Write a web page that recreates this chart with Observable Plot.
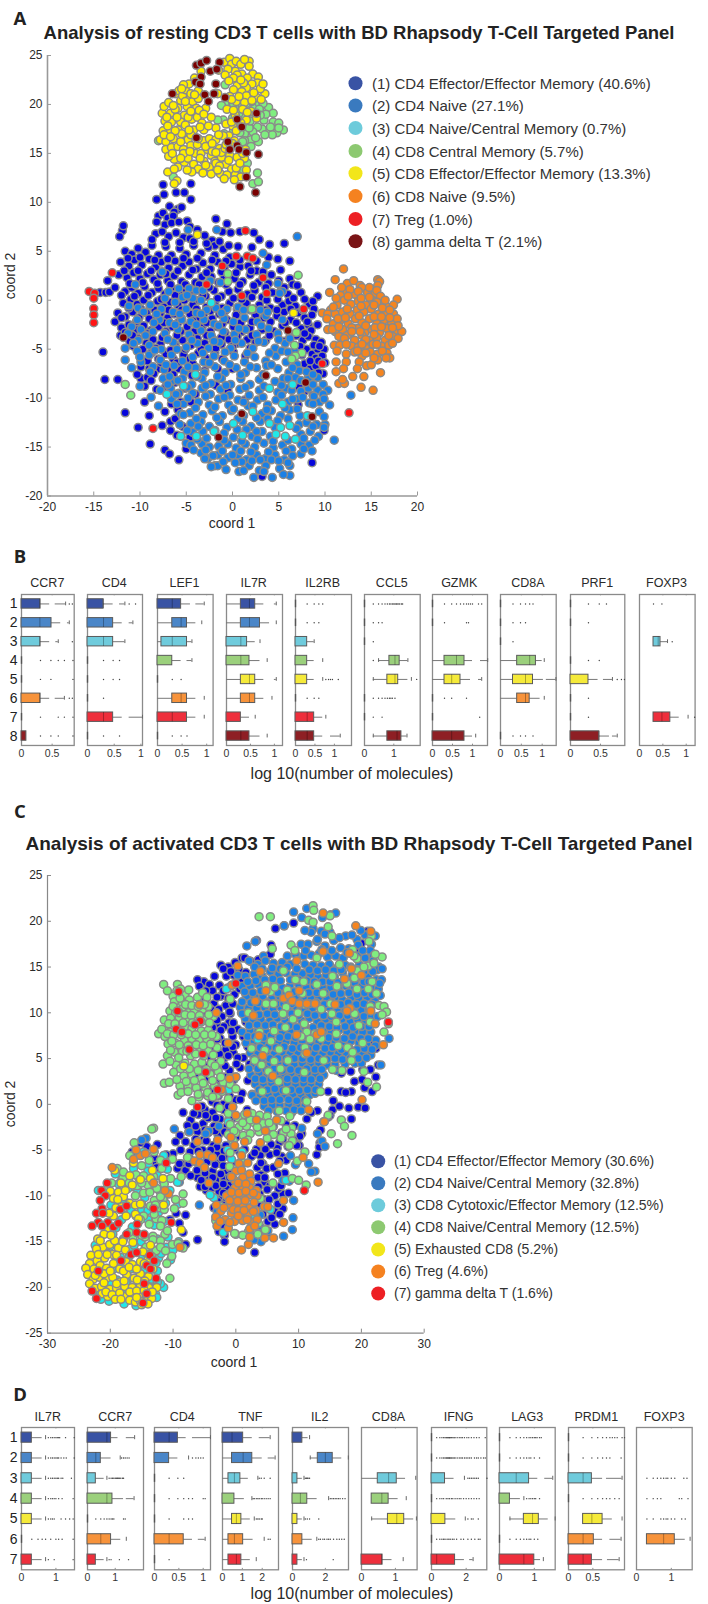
<!DOCTYPE html>
<html><head><meta charset="utf-8">
<script src="https://cdn.jsdelivr.net/npm/d3@7"></script>
<script src="https://cdn.jsdelivr.net/npm/@observablehq/plot@0.6"></script>
<style>
html,body{margin:0;padding:0;background:#fff}
#page{position:relative;width:708px;height:1604px;overflow:hidden;font-family:"Liberation Sans",Arial,sans-serif;color:#2a2a2a}
.lab{position:absolute;white-space:nowrap;transform:translate(-50%,-50%)}
.abs{position:absolute}
.abs svg{overflow:visible;display:block}
</style></head><body><div id="page"></div>
<script>
// ---------- Legends and colours ----------
const legendA=["(1) CD4 Effector/Effector Memory (40.6%)","(2) CD4 Naive (27.1%)","(3) CD4 Naive/Central Memory (0.7%)","(4) CD8 Central Memory (5.7%)","(5) CD8 Effector/Effector Memory (13.3%)","(6) CD8 Naive (9.5%)","(7) Treg (1.0%)","(8) gamma delta T (2.1%)"];
const legendColorsA=["#3953a4","#3a7abf","#6dcbdb","#8dc971","#f2e61a","#f58220","#ed2024","#7a1416"];
const pointColorsA=["#0606dc","#1a80e6","#20e8e8","#80ee80","#ffee00","#f5851f","#ff1414","#7a0000"];
const legendC=["(1) CD4 Effector/Effector Memory (30.6%)","(2) CD4 Naive/Central Memory (32.8%)","(3) CD8 Cytotoxic/Effector Memory (12.5%)","(4) CD8 Naive/Central Memory (12.5%)","(5) Exhausted CD8 (5.2%)","(6) Treg (4.6%)","(7) gamma delta T (1.6%)"];
const legendColorsC=["#3953a4","#3a7abf","#6dcbdb","#8dc971","#f2e61a","#f58220","#ed2024"];
const pointColorsC=["#0606dc","#1a80e6","#20e8e8","#80ee80","#ffee00","#f5851f","#ff1414"];
const boxColors=["#3953a4","#4a86c8","#6fcbdc","#9bd07c","#f5ea3a","#f7933b","#ee2f3c","#8e1f24"];

// ---------- Panel A: points (x,y,x,y,...) ----------
const A1=[-7.5,11.8,-4.5,11.9,-8.2,10.3,-7.4,10.8,-4.5,10.3,-6.1,11,-5.2,11,-6.8,9.6,-5.9,9.3,-5.5,9.5,-6.3,9,-8,8.6,-7.5,8.9,-7,8.4,-6.4,8.6,-8.2,8,-7.3,7.7,-6.6,7.9,-5.8,8,-4.9,8.1,-4.6,7.5,-1.8,8.3,-0.6,7.8,-11.9,7.1,-12.2,6.5,-11.8,7.6,
-8.3,6.8,-7.6,7,-6.9,6.5,-6.1,6.9,-5.3,6.4,-4.6,6.3,-3.8,7.2,-3,6.6,-2.2,6.1,-1.1,7,-0.2,6.9,0.8,7,-1.9,5.6,2.3,6.9,2.9,6.2,4,5.7,5.6,5.8,
-11.6,5,-10.9,4.7,-10.2,5.3,-9.4,4.9,-8.7,5.6,-8,4.6,-7.2,5.5,-6.6,4.6,-5.7,5.3,-5,4.7,-4.2,5.6,-3.4,4.8,-2.6,5.4,-1.9,4.6,-1,5.2,-0.3,4.4,3.9,4.4,4.9,4.2,6.2,4,
-12.1,3.9,-11.2,3.5,-10.6,4.1,-9.8,3.6,-9,4.2,-8.3,3.4,-7.7,3.9,-6.9,3.3,-6.2,4,-5.4,3.5,-4.7,3.9,-3.9,3.2,-3.2,3.8,-2.4,3.2,-1.6,3.9,-0.9,3.3,-0.1,3.7,0.8,3.4,1.7,3.5,2.6,3,4.2,2.6,
-12.3,2.6,-11.4,2.3,-10.7,2.8,-10,2.2,-9.2,2.7,-8.5,2.1,-7.8,2.6,-7,2,-6.3,2.5,-5.5,1.9,-4.7,2.6,-4,1.8,-3.3,2.4,-2.3,2.4,-1.5,1.8,-0.9,2.4,0.2,2.2,1.1,1.9,1.9,2.6,2.8,1.8,3.9,1.7,5,2,6.2,2.2,6.5,1.6,
-13.5,2,-14.3,0.8,-13.7,0.8,-13.3,0.85,-12.7,1.3,-11.6,0.9,-10.9,1.3,-10.2,0.7,-9.5,1.4,-8.7,0.8,-8,1.2,-7.3,0.6,-6.6,1.3,-5.8,0.7,-5.1,1.2,-4.4,0.6,-3.6,1.1,-2.9,0.4,-2,1,-1.2,0.4,-0.4,0.9,0.6,1.1,1.6,0.6,2.4,1,3.2,0.3,4.3,0.8,5.2,0.9,6,0.6,7.4,0.8,9.2,0.4,
-11.8,-0.3,-11,0.1,-10.3,-0.4,-9.6,0,-8.9,-0.6,-8.1,-0.1,-7.4,-0.7,-6.7,-0.2,-5.9,-0.5,-5.2,0,-4.3,-0.5,-3.6,0,-2.8,-0.7,-1.9,-0.4,-1.1,-0.8,-0.3,-0.3,0.5,-0.9,1.5,-0.3,2.9,-0.5,4.1,-0.8,5.4,-0.5,6.1,-0.1,6.8,-0.6,8.3,-0.4,8.8,-0.9,
-12.4,-1.3,-11.6,-1.7,-10.8,-1.2,-10.1,-1.8,-9.3,-1.3,-8.5,-1.9,-7.8,-1.3,-7,-1.8,-6.3,-1.4,-5.5,-1.9,-4.6,-1.4,-3.8,-2,-3.1,-1.4,-2.2,-1.9,-1.4,-1.4,-0.6,-2,0.4,-1.5,2.5,-1.5,3.4,-1.8,4.8,-1.6,5.6,-1.2,6.3,-2,7.1,-1.3,7.8,-1.8,8.6,-1.5,
-12.7,-2.2,-12,-2.8,-11.2,-2.5,-10.4,-3,-9.6,-2.6,-8.8,-3.1,-8,-2.7,-7.2,-3.2,-6.5,-2.7,-5.6,-3.2,-4.9,-2.7,-4.1,-3.2,-3.3,-2.8,-2.4,-3.2,-1.6,-2.7,-0.8,-3.3,0.1,-2.7,1,-3.2,1.9,-2.8,3.2,-3,4.5,-3.2,5.4,-2.6,7.4,-2.9,8.2,-2.5,8.5,-3.1,9.2,-2.5,
-12.1,-3.6,-11.1,-4.2,-10.2,-3.9,-9.3,-4.4,-8.6,-4,-7.8,-4.5,-7,-4,-6.2,-4.6,-5.4,-4.1,-4.5,-4.6,-3.8,-3.9,-3,-4.4,-2.1,-4,-1.2,-4.5,-0.4,-4,0.5,-4.4,1.6,-4,2.5,-4.3,3.6,-4.1,5.6,-4.2,6.2,-3.8,7.6,-4.1,8.2,-3.7,9,-4,9.6,-4.3,
-8.8,-5.4,-8,-6,-7.2,-5.5,-6.4,-6,-5.3,-5.6,-4.6,-6,-3.7,-5.4,-2.9,-5.9,-1.9,-5.4,-1.1,-6,0.1,-5.3,1.4,-5.7,8,-5,8.6,-5.5,9.2,-5,9.9,-5,9,-5.9,9.7,-5.7,
-9.9,-6.8,-9,-7,-8,-7,-7,-7.1,-5.8,-7,-4.9,-7.2,-3.9,-6.9,-3,-7.2,-1.6,-7,0,-7,7.8,-6.5,8.4,-7,9,-6.7,9.8,-7.5,10,-6.4,
-13.8,-8.1,-12.4,-8.1,-14,-5.3,-9.9,-8,-9.2,-7.9,-9.5,-8.8,-9.5,-10.4,-11.6,-11.5,-10.2,-13,-8.9,-14.7,-7.3,-15.3,-6.8,-15.7,-5.8,-16.3,-9,-11.8,-7.3,-11.4,-6.7,-12.4,-6.7,-13.3,-6,-13.8,-5,-15.2,-8.2,-9.1,-7.2,-8.8,-6.2,-8.4,-5.6,-10.4,-5.9,-11.2,-6.6,-10.6,-4,-9.6,-3.2,-9,-1.8,-8.7,-0.5,-9.2,1.3,-10.2,8.6,-16.6,3.2,-18,6.2,-8.1,7.2,-8.9,7.8,-9.3,8.7,-9.7,9.9,-13.3,8.2,-7.9];
const A1more=[-8.7,6.2,-7.3,5.9,-5.7,5.9,-4.2,6,-2.8,5.8,-1.4,6,-0.4,5.6,0.6,5.5,2.1,5.4,-11.3,4.3,-10,4.4,-8.4,4.1,-7,4.2,-5.3,4.3,-3.8,4.3,-2.2,4.1,-0.7,4,0.8,4.1,2.6,4,-11.7,3,-10.2,3,-8.8,3,-7.2,2.7,-5.9,3,-4.3,3.1,-2.8,2.8,-1.2,2.9,0.4,2.8,2,3,3.3,2.9,5.2,3.1,-11.1,1.7,-9.7,1.8,-8.1,1.7,-6.7,1.6,-5.1,1.6,-3.6,1.6,-2.5,1.3,-0.7,1.6,0.8,1.6,2.3,1.5,3.6,1.3,5.6,1.3,7,1.5,-12,0.5,-10.6,0.4,-9.1,0.5,-7.7,0.1,-6.2,0.5,-4.7,0.4,-3.2,0.5,-1.6,0.2,0.1,0.2,1,0.1,2.1,0.3,3.7,0,4.9,0.1,6.6,0.2,7.8,0.1,8.7,-0.1,-11.2,-0.8,-9.9,-0.9,-8.4,-1,-6.9,-1,-5.5,-1,-3.9,-0.9,-2.4,-1.1,-0.8,-1.1,1,-1,2.3,-0.9,3.6,-1,4.8,-1,6.3,-0.9,7.6,-1,-12,-1.8,-10.4,-2.2,-9,-1.9,-7.4,-2.3,-5.9,-2.3,-4.3,-2.1,-2.8,-2.3,-1.1,-2.4,0.9,-2.3,2.1,-2.2,4.1,-2.2,5.7,-2.3,6.9,-2.3,8.1,-2.2,-11.6,-3.3,-10.8,-3.6,-9.1,-3.4,-7.6,-3.8,-6,-3.6,-4.5,-3.7,-2.8,-3.6,-1.2,-3.8,0.5,-3.7,2.1,-3.6,4,-3.6,6.9,-3.6,7.8,-3.4,-10.7,-4.7,-9.7,-5,-8.3,-4.9,-6.7,-5.1,-5.1,-5,-3.4,-5,-1.8,-4.9,0,-4.7,1.9,-4.9,7.3,-4.7,8.8,-4.6,9.4,-4.7,-10,-5.8,-9.2,-6.2,-7.7,-6.4,-6,-6.4,-4.3,-6.5,-2.5,-6.5,7.5,-5.6,8.4,-6.2,9.3,-6.2,-10.3,-7.6,-8.5,-7.5,-6.4,-7.6,-4.4,-7.7,8.6,-7.7,9.3,-7.4,-8.8,-8.2,-6.9,-9.2,-5.1,-9,-4.5,-10.4,5.5,-9.2,7.1,-10.7,-7.6,-12.8,-6.2,-12.1,-5.4,-12.9,-4.6,-14];
const A2=[-4.8,7.2,-1.7,7.2,7,6.5,3.3,4.8,3.7,3.6,12.8,-9.7,11,-14.3,-7.6,2.9,-10.5,1.6,-2.4,2,-1.3,1.8,4.9,1.7,5.4,0.9,5.1,0.7,
-5.8,1.2,-4.7,1.2,-3.9,1.0,-3.2,1,-7.3,0.2,-6.2,-0.2,-5.4,0.3,-4.3,0.2,-3.4,0,-8.9,-0.5,-10.2,-0.8,-11.2,-0.6,-9.6,-1.2,-7.7,-0.9,-6.4,-1.2,-5,-0.9,-3.9,-1.3,-2.8,-1,-1.8,-0.8,-0.6,-0.9,0.6,-0.7,1.9,-1,3,-1,
-7.9,-2,-6.8,-2.3,-5.5,-2,-4.5,-2.2,-3.1,-2,-2,-2.4,-0.9,-1.9,0.1,-2.2,1.3,-1.8,2.7,-2.2,3.6,-1.6,5.4,-2,-10.9,-2.7,-9.9,-3,-8.6,-3.2,-7.3,-3.4,-5.9,-3,-4.7,-3.5,-3.4,-3.1,-2.3,-3.6,-1,-3.2,0.2,-3.5,1.4,-3,2.6,-3.5,3.9,-2.9,4.9,-3.4,
-11.3,-3.4,-10.2,-4.1,-9,-4.6,-7.7,-5,-6.4,-4.3,-5,-4.8,-3.8,-4.4,-2.6,-4.9,-1.4,-4.3,-0.2,-4.9,1,-4.4,2.2,-4.9,3.4,-4.3,4.6,-4.9,5.7,-4.4,6.7,-5.2,
-11.6,-4.9,-10.3,-5.2,-9,-5.6,-7.8,-6.1,-6.6,-5.6,-5.4,-6.2,-4.3,-5.8,-3.1,-6.3,-2,-5.7,-0.9,-6.2,0.2,-5.7,1.3,-6.3,2.4,-5.8,3.6,-6.2,4.7,-5.7,5.8,-6.3,7,-6.6,
-11.6,-6.1,-10.9,-6.9,-9.9,-6.3,-8.6,-6.8,-7.4,-7.1,-6.3,-6.7,-5.2,-7.3,-4,-6.9,-3,-7.4,-1.9,-6.8,-0.8,-7.4,0.4,-6.9,1.4,-7.4,2.6,-6.9,3.7,-6.7,4.9,-7,6.1,-7.4,7.2,-7.2,
-7.5,-8,-6.4,-8.2,-5.4,-8,-4.4,-8.6,-3.3,-8,-2.3,-8.5,-1.2,-8,-0.2,-8.6,0.9,-8,1.9,-8.6,2.9,-8.1,4.6,-8.3,5.5,-8,6.8,-7.9,8.2,-8,9.2,-7.9,9.8,-8.6,
-10,-8.8,-7.8,-9.2,-6.7,-9,-5.8,-9.5,-4.3,-9.5,-3.3,-9,-2.4,-9.6,-1.3,-9.1,-0.3,-9.7,0.8,-9.1,1.8,-9.7,2.9,-9.2,4.9,-9.4,5.8,-9,7.4,-9.3,8.2,-9,9.2,-9.2,10.3,-9.2,
-8.8,-9.9,-6.6,-10.1,-5.3,-10.6,-3.7,-10.4,-2.5,-10.7,-1.5,-10.1,-0.4,-10.7,0.6,-10.2,1.7,-10.8,2.7,-10.2,3.8,-10.7,4.7,-10.2,6,-10.4,7,-10.1,8.3,-10.5,9.4,-10.4,10.5,-10.7,
-8,-10.8,-4.6,-11.5,-3.2,-11.7,-2.2,-11.3,-1.1,-11.8,-0.1,-11.3,1.2,-11.8,3.2,-11.6,4.2,-11.3,5.2,-11.8,6.2,-11.2,7.3,-11.8,9.4,-11.4,
-5.6,-11.6,-5.7,-12.7,-4.5,-12.6,-3.4,-12.4,-2.5,-12.9,-1.4,-12.4,-0.6,-13,1.1,-12.4,2,-12.9,3,-12.4,4.9,-12.3,7.2,-12.7,8,-12.5,9.1,-12.7,10,-12.7,
-4.3,-13.5,-3.2,-13.4,-0.9,-13.6,0.1,-14,2.1,-13.9,3.2,-13.4,4.1,-13.9,7.4,-13.7,8.4,-13.4,9.3,-13.9,
-5,-14.6,-4.5,-14.8,-3.3,-14.7,-2.5,-15,-1.5,-14.9,-0.5,-14.7,0.4,-15.1,1.4,-14.7,2.4,-15,3.4,-14.6,4.4,-15.1,5.4,-14.8,6.4,-15.2,7.4,-14.7,8.3,-14.8,
-3.4,-15.6,-2.7,-16.2,-1.6,-15.8,-0.5,-16.1,0.6,-15.8,1.5,-16.3,2.6,-15.8,3.5,-16.2,4.6,-15.8,5.6,-16.3,6.5,-15.9,7.4,-15.7,
-3,-16.2,-1.9,-16.9,-1.6,-16.9,-0.7,-17.3,0.7,-17.5,1.8,-16.9,2.3,-18.1,2.9,-17.4,3.6,-16.9,4.3,-18.1,5.1,-17.2,6.2,-17.9,6.2,-16.9];
const A2more=[-6.9,0.9,-4.9,0.5,-8.2,-1.4,-5.7,-1.4,-3.4,-1.4,-1.2,-1.3,1.2,-1,3.8,-1.2,-10.3,-2,-8.5,-2.3,-6.2,-2.5,-3.9,-2.5,-1.5,-2.6,0.7,-2.9,3.1,-2.6,-9.4,-3.6,-7,-4,-4.4,-4.1,-2,-4.2,0.3,-4.1,2.8,-4.2,5,-4,6.2,-3.9,-10.7,-4.4,-8.4,-5.1,-6,-5,-3.2,-5.4,-0.8,-5.3,1.6,-5.4,4,-5.4,5.3,-5.2,6,-5.3,-10,-5.8,-7.2,-6.6,-4.8,-6.8,-2.5,-6.4,-0.3,-6.6,1.9,-6.8,4.2,-6.6,6.5,-6.9,8,-7.3,-8.9,-7.3,-6.8,-7.8,-5.9,-8.2,-3.8,-7.8,-1.6,-7.8,0.9,-7.6,3.3,-7.6,6,-8,7.4,-8.2,8.7,-7.6,-7,-8.6,-4.9,-8.9,-2.9,-8.7,-0.7,-8.7,1.4,-8.9,3.4,-8.8,5.3,-8.7,6.4,-9.2,8.7,-8.6,9.8,-9.6,-6.1,-9.6,-4.8,-10,-2.9,-9.8,-0.9,-9.9,1.2,-10.4,3.3,-9.9,5.3,-9.7,6.5,-10.1,7.6,-9.9,8.8,-9.8,-6,-10.6,-4,-11,-1.9,-10.9,0.1,-11.1,2.2,-10.8,3.7,-11.2,5.7,-11,7,-11.1,8.7,-10.6,9.9,-10.1,-5.3,-11.7,-3.9,-12.1,-1.7,-12,0.6,-12.1,2.6,-12,3.8,-12.1,6,-12.1,8.2,-11.9,9.9,-11.9,-4.9,-13.3,-3.7,-12.9,-1.9,-13.3,0.5,-13.2,1.5,-13.2,2.6,-13.4,4.6,-13,6.9,-13.1,8.7,-12.9,9.9,-13,-3.8,-14.2,-2.8,-14.1,-0.9,-14.3,1,-14.4,2.7,-14.2,4.4,-14.4,6,-14.3,7.7,-14.1,8.9,-14.3,-4.2,-15.3,-2.9,-15.3,-1.1,-15.4,0.9,-15.4,2,-15.5,3.9,-15.5,5.8,-15.4,7.7,-15.2,8.6,-15.4,-2.1,-15.9,0,-15.8,1,-16.5,2.1,-16.4,3,-16.3,4.2,-16.3,5,-16.4,6,-16.6,-1,-16.5,0.3,-16.6,-2.3,-17,1.2,-17.4,3.4,-17.5,5.5,-17.8];
const A3=[-2.3,-0.25,-4,-7.6,-5.3,-8.75,-7.1,-9.6,4,-9,6.5,-8.6,5.4,-10.6,2.2,-11.4,0.1,-12.6,4,-12.6,-2,-13.4,1.1,-13.8,-3.9,-13.9,-5.6,-13.9,5.2,-13,6.2,-12.8,5.7,-13.9,6.8,-14.2,4.7,-13.7,8.1,-11.8];
const A4=[-0.5,2.7,-0.5,1.9,7.1,2.55,2.1,-0.9,6.9,-3.3,6.7,-4.6,7.5,-5.4,6.8,-5.7,6.4,-6,-11.6,-8.6,-11,-9.7,-6.4,12.6,-8,16.3,-0.8,22,2.7,13,2.2,11.9,2.8,12.1,0.9,13.6,1.1,14.1,
-0.8,20,-1.2,19.9,0.2,19.7,0.8,20.3,1.5,20.1,1.8,20.8,2.4,19.9,2.9,20.1,3,19.2,3.9,19.7,4.4,19.1,2.2,18.9,3.4,18.4,4.4,18.2,5,18.1,5.5,17.4,4.8,17.1,3.9,17.2,3.2,17.5,2.7,17.7,2.2,17.2,1.3,17,2,16.4,2.8,16.2,0.8,17.1,0.1,17.3,-1,18.4,-1.6,18.4,-0.9,17,1.3,16.3,2.5,16.6,4.3,16.9,1.4,18.8,0,18.6,0.7,19.1,1.6,14,0.9,13,1.2,13.3,0.1,20.1,1.1,19.9,2.1,20.3,3.3,20.1,3.6,19,4.1,17.7,5,17.6,3.5,16.9,1.8,17.6,1.1,16.2,2,15.7,2.9,19.5,1.9,18.3,3,18.9];
const A5=[6.6,-1.3,-3.8,6.7,
-7.6,19.1,-7.3,18.3,-7.5,17.3,-7.4,19.8,-6.9,20.2,-6.7,19.1,-6.6,18.2,-6.7,17.3,-7.8,16.4,-7.2,16.2,-6.4,16.5,-7.2,15.4,-6.6,15.6,-6.3,14.4,-6.9,14.7,-7,13.1,-5.9,13.6,-5.2,14.1,-6.2,21.1,-5.8,21.4,-5.6,20.4,-5.9,19.6,-5.4,20.9,-5.1,21.5,-4.6,20.6,-4.9,19.8,-4.3,20.3,-3.9,19.6,-3.7,20.6,-5.2,18.9,-5.6,18.2,-5.9,17.4,-5.1,17.9,-4.4,18.5,-3.8,18.7,-3.3,18.1,-4.2,17.4,-5.3,16.9,-4.8,16.4,-5.9,15.7,-5.3,15.4,-4.5,15.8,-3.8,15.9,-3.1,16.3,-2.5,16.5,-4,15,-3.4,15,-2.7,15.4,-2.3,14.8,-1.8,16.4,-1.4,15.5,-3.1,14.2,-4.8,14.5,-4.2,13.9,-3.7,13.4,-4.4,13.1,-2.5,13.6,-1.9,14.2,-1.2,14.6,-0.7,13.9,-0.1,13.4,-2.3,12.9,-1.3,12.9,-0.6,12.8,0.3,12.8,0.9,12.6,-6,12.2,-5.5,17,-4.5,16.9,-3.1,17.4,-2.9,19.6,-6.3,13.4,-6.3,11.9,
-4.7,22.1,-4.1,22.7,-5.3,22,-3.4,23.4,-1.5,23.5,-0.9,24.3,-0.3,24.7,-0.1,24.1,0.4,24.4,1,23.1,0.3,23.4,-0.5,23.6,0.9,24.1,1.8,24.4,1.8,23.9,2.2,23.1,0.3,22.5,1.6,22.7,2.8,22.8,2.7,22.2,2.1,22.1,1.5,21.7,0.5,21.9,0.1,21.5,1,21.3,-0.3,20.8,1.5,20.9,2.6,20.7,3.5,21.1,3,21.6,1.3,20.2,0.4,20.3,-0.1,20.5,-1.6,21.1,-0.6,19.5,1.1,19.5,2,19.3,0.3,18.9,1.5,18.4,0.9,18.1,0,17.8,-0.4,16.8,-1.8,17.6,-2.3,18.7,-1.2,15.1,-0.3,14.8,0.5,14.6,1.3,14.5,-1.8,14,-1.4,13.7,0.4,13.5,1.5,13.3,-0.8,15.5,0.2,16.3,1.4,15.4,-1,16.8,0,16,-0.9,12.4,0.2,12.3];
const A5more=[-7.1,18.7,-6.2,19.5,-6,18.7,-7,17.8,-6.2,17.3,-7.4,16.9,-6.7,16.7,-5.6,16.2,-6.5,15,-5.3,15,-5.6,14.5,-4.6,15.2,-4.7,17.4,-4.8,18.7,-4.5,19.3,-3.6,19.4,-3.1,19,-3.5,17.7,-3.7,16.5,-2.9,15.7,-2.2,16,-4.5,21.1,-5.5,21.6,-3.7,21.4,-4.1,21,-6.4,19.9,-5.1,20.3,-2.2,15.2,-1.8,15.1,-3.5,14.5,-2.9,13.8,-4.9,13.3,-3.2,13,-1.6,13.3,-0.4,14.3,0.8,14,1.1,15,-0.7,15.9,1.2,22.2,2.3,21.2,0.5,23,1.3,24.6,-0.8,23,0.1,22.7,0.9,22.5,-0.4,22.4,3.3,22.1,2.1,20.4,3.1,20.5,0.7,20.8,0.1,19.4,1.6,19.2,2.6,18.6,0.4,17.3,-0.7,18,-0.1,18.2,-1.5,16.9,-2.6,17.8];
const A6=[12,3.2,11.1,2.1,12.4,1.7,13.1,2,13.8,1.5,15.7,2.1,15.9,1.9,15.7,1.5,14,1.3,10.5,0.8,11.7,0.5,12.4,0.9,13.2,0.6,14.6,0.8,15.4,0.6,17.8,0.1,
11.3,-0.5,12.1,0,12.8,-0.4,13.6,-0.1,14.4,-0.5,15.1,0,15.9,-0.3,16.7,-0.7,10.6,-1,9.7,-1.3,10.3,-1.4,11.1,-1.4,11.9,-1.2,12.7,-1.4,13.5,-1,14.2,-1.2,15,-0.9,15.8,-1.4,16.6,-1.3,17.4,-1.4,
10.2,-1.9,10.9,-2.4,11.7,-2,12.5,-2.4,13.3,-1.9,14,-2.3,14.8,-1.9,15.6,-2.4,16.4,-2,17.2,-2.4,17.8,-1.9,
10.3,-3,11.1,-3.2,11.9,-3,12.7,-3.4,13.5,-2.9,14.3,-3.3,15.1,-3,15.9,-3.3,16.7,-2.9,17.6,-3.1,18.3,-3.2,
11.5,-3.7,12.4,-3.6,13.2,-4.1,14,-3.6,14.8,-4.1,15.6,-3.8,16.5,-4.1,17.3,-3.7,17.9,-3.9,11,-4.6,11.6,-4.6,12.9,-4.7,13.6,-4.8,14.4,-4.9,15.2,-4.5,16.1,-4.7,16.9,-4.6,
11.3,-5.2,13.2,-5.3,14,-5.7,14.9,-5.3,15.7,-5.5,16.7,-5.4,17,-5.9,11.2,-6.3,12.3,-6.3,13.7,-6.3,14.5,-6.7,15,-6.6,15.7,-6.1,12,-7,11.2,-7.3,13.5,-7,13,-7.8,14.2,-7.8,16,-7.4,11.5,-8.5,12.1,-8.5,13.9,-8.9,15.2,-9.2,11.9,-8.1,
11.8,1.3,12.7,1.1,13.6,0.9,14.8,1.3,15.6,1,16,0.4,11.2,0.2,12.5,0.4,13.9,0.2,14.8,0.3,15.6,-0.2,16.5,0,17.4,-0.5,10.9,-0.7,12.4,-0.9,13.9,-0.6,15.3,-0.5,16.2,-0.8,17,-1,11.4,-1.9,12.2,-1.8,13.7,-1.6,15.3,-1.7,16.1,-1.7,17,-1.8,17.9,-2.6,10.8,-3,11.5,-2.7,12.9,-2.8,14.4,-2.6,15.4,-2.8,16.1,-2.7,17.3,-2.8,12.1,-3.9,12.9,-3.2,13.8,-3.2,14.4,-4,15.3,-3.5,16.9,-3.6,12.3,-4.5,14,-4.5,15.6,-4.5,17.3,-4.4,13.5,-5.2,14.4,-5.4,15.3,-5.9,16.2,-5.2,16.6,-5.9,12.3,-5.5];
const A7=[-15.5,0.9,-14.9,0.7,-15,0.2,-15,-0.85,-15,-1.5,-15,-2.3,-13,2.8,-2.8,1.6,-1.1,3.5,0.4,4.5,1.6,4.5,2.2,4.3,3.3,2.3,1,0.45,3.7,0.7,7.7,-0.9,9.7,-6.5,12.6,-11.5,-8.6,-13.1,1.4,7.1];
const A8=[-11.8,-3.8,6,-3.1,3.6,-7.7,7.9,-8.4,1,-11.6,8.6,-11.9,-1.5,-14,-3.9,24,-3.4,24.2,-2.8,24.5,-1.4,24.3,-2.4,23.4,-1.7,23.6,-3.4,22.8,-4,22.3,-3.5,22.1,-1.8,22.1,-3,21,-2,21.1,-2.6,20.3,-0.8,20.7,-6.5,21.1,2.6,19.1,0.5,18.5,1,17.7,-3.9,16.6,-0.5,16.2,0.5,15.8,-0.3,15.4,0.7,15.4,1.5,15.1,2.8,14.9,1.5,12.6,0.8,11.6,2.5,11];

// ---------- Panel C: points ----------
const C1=[6.3,19.2,7.7,19.5,9.2,19.8,3.1,17.8,3.3,17.9,5.6,17.4,-0.1,15.5,1,16,1.4,16,2.4,15.6,3.6,15.8,4.6,16.1,5.5,16.4,-2.4,15.2,-1.2,15,0.5,14.7,1.6,14.4,-3.4,14,-1.5,14,-0.3,14.1,0.8,13.6,-5.1,13.4,-6.1,13.6,-4.2,13.1,-2.6,13,-1.3,12.7,-5.8,12.9,-2.4,11.8,-0.2,12,1.6,12,-4.8,11.5,-3.5,11,-1.6,10.8,-0.5,11,-5.4,10,-3.9,9.7,-2.2,9.6,-0.9,9.9,0.9,10,-3,8.6,-1.1,8.9,0.3,8.2,1.6,9,-4.4,7.9,-2.5,7.2,-0.5,7.4,1.2,7.4,-3.3,6.2,-1.6,6,0,6.5,1.9,6.3,-3.9,5,-2,4.9,-0.4,5.6,1.2,5.1,-5,4.2,-3,3.9,-1,3.7,0.7,4,2.2,4.4,-5.9,3,-4.4,2.8,-2.6,2.6,-0.3,2.7,1.9,2.6,-8.4,1.9,-6.1,1.6,-4.1,1.5,-1.6,1.5,1,1.2,2.6,1.1,-3.8,0.3,-2,0,0,0.5,-4.9,-0.6,-3.7,-0.9,-1.9,-0.6,-0.5,-0.3,1.8,-0.6,
21,18.9,20,17.6,19.5,16.9,15.5,0.4,14.7,1.4,16.8,1.4,18.4,1.4,20.5,1.8,21.7,1.4,22.3,3,21.4,3.8,20.2,3.8,18.3,3.6,16.8,3.4,20.1,2.7,18.9,2.5,17.5,1.3,15.4,-0.6,16.5,-0.2,18,-0.4,19.5,-0.3,20.6,-0.4,18.4,-1.6,14,-1.9,13,-0.7,13.5,-2.8,14.7,-1.4,15,-1.2,12,-0.9,11.3,-1.6,10.5,-3.2,22.3,6.1,21.8,6.8,22.7,4.3,
-8.4,-0.9,-7.2,-1.7,-6,-1.1,-5.2,-2.1,-4.4,-1.5,-3.5,-2.4,-2.5,-1.6,-1.4,-2.4,-0.3,-1.5,0.7,-2.4,-7.5,-3,-8.9,-3.4,-6.1,-3,-4.4,-3.1,-2.8,-3.4,-1,-3.4,-5.2,-3.9,-3.6,-4.5,-1.6,-4.5,0,-3.6,5.8,-3.3,7.3,-3.1,8.5,-2.8,10.2,-3.5,7,-4.1,9.2,-3.9,6.6,-4.8,8.3,-4.6,10.1,-4.5,3.3,-4.9,-10,-5.4,-9.6,-4.1,-6.7,-4.5,-5.3,-5,-4.6,-5.7,-3,-5.4,-1.2,-5.7,0.6,-5.2,2.5,-5.7,3.9,-5.6,5.4,-5.5,7.3,-5.7,
12.9,-5.5,13.4,-4.2,13.3,-4.7,-8.7,-6.5,-8,-7.2,-7.5,-6.5,-6.3,-6.3,-5.5,-7.1,-4.6,-6.3,-3.7,-7.3,-2.6,-6.4,-1.5,-7.3,-0.5,-6.3,0.8,-7,3.4,-6.9,4.3,-6.5,8,-6.1,-6.1,-8,-5,-8.3,-4.2,-7.9,-3.2,-8.3,-1.8,-8.1,-0.8,-8.7,4,-7.7,4.6,-8.5,5.4,-8.9,7.6,-8,7.8,-7.5,-5.7,-9,-4.7,-9.4,-3.8,-9.1,-2.7,-9.5,-1.5,-9.2,3.8,-9.8,4.5,-10.4,6.2,-10,7.5,-9.8,8.4,-9.7,-2.4,-10.4,-1.5,-10.4,4.7,-11.1,6.2,-11.7,7.5,-11.4,-2.8,-11.6,-3.5,-11.3,-6.1,-14.8,-2.7,-13.9,-1.8,-14.3,-1.8,-15,2.3,-13.6,3.1,-14.4,5.1,-12.8,6.2,-13.1,3,-16.2,-11.1,-5.5,-12.5,-4.4,-14.2,-4.6,-15.2,-4.2,-16.5,-5.2,-13.2,-6.4,-12.6,-6.9,-11.6,-8.4,-10.9,-9.5,-9.3,-7,-9,-6.5,-7.2,-7.8,-13,-5.8,-11.3,-9.9,-9.5,-11.9,-10.5,-12.6,-9,-13,-8,-12.1,-8.4,-14,-8,-15.3];
const C1more=[-2,14.8,-0.8,14.5,-3.7,12.4,-2,12.4,-0.7,13,0.6,12.6,-4.8,12.4,-3,11.7,-1.2,11.6,-4,10.4,-2.7,10.4,-1,10.1,-4.6,9.1,-3,9.2,-1.9,8.5,-0.4,8.9,-3.7,8.4,-2.4,8.1,-0.7,8,-3,7.1,-1.7,6.7,-0.5,6.3,-2.6,5.5,-1.2,5.3,0.3,5.1,-3.4,4.5,-1.7,4.2,0.1,4.4,-4,3.4,-1.9,3,0,3,-5.1,2.3,-3.3,2.1,-1.2,2.2,-4.6,1,-2.8,0.9,-1,0.9,0.7,0.5,-5.4,-0.2,-3,-0.1,-1.2,-0.2,-6.7,-1,-4.8,-1.2,-3.2,-1.5,-1,-1.6,-7.7,-2.3,-6.4,-2.4,-4.9,-2.8,-3.3,-2.9,-1.8,-3,-0.1,-2.9,6,-2.4,8,-2.2,9.4,-2.3,-8,-4.1,-6.4,-3.8,-4.7,-4,-3,-4.7,-1.9,-5.1,-0.3,-4.8,5.6,-4.4,7.5,-3.8,9.7,-4.5,-8.8,-5,-7.3,-5.2,-6,-5.1,-4,-5,-2.2,-5.9,1.4,-4.9,3,-5.3,4.7,-4.9,6.5,-5.3,-7.4,-5.9,-6.2,-7.2,-4.9,-7.5,-3.3,-6.6,-2,-6.7,-0.9,-7,4,-6.4,4.9,-7,6,-6.9,7,-6.2,-5.5,-8.3,-3.7,-8,-2.4,-7.6,-1,-8,3.5,-8,4.6,-8,6.7,-7.6,-4.9,-9,-3.2,-8.9,-2,-8.7,3.6,-9,5,-9.3,6.8,-9.2,7.2,-8.9,-2,-9.7,-0.7,-9.7,3.9,-10.9,5.3,-10.4,6.7,-10.9,-2.9,-10.6,-2.1,-11,4.3,-12,5.7,-12.4,7,-12,-3,-12.4,-2.2,-13.2,3.9,-14.2,4.9,-14.1];
const C2=[1.75,17.3,3.1,17.8,4.4,16.2,9.2,21,7.7,19.5,11.3,21.4,10.5,20.4,12.3,19.2,13.8,20.4,15.1,20.7,15.9,20.9,12,18.8,13.6,18.9,15,18.8,17.5,18.4,19.3,18,20.6,18.5,22.2,18.4,21.6,17.5,
10.4,17.5,11.5,17.5,12.9,17.8,14.2,17.3,15.6,17.9,16.7,17.1,18,17,19.5,17.4,21.4,16.8,8.2,16.2,9.5,16.4,10.8,16.2,12,16.3,13.3,16.5,14.6,16.1,15.9,16.2,17.1,16,19.4,16.2,20.6,16,21.9,16.2,22.8,15,
2.1,15.7,3.5,15.3,4.7,15.7,6,15.4,7.4,15.5,8.7,15.3,11,15.3,12.3,15.2,13.6,15.1,14.9,15.3,16.2,14.9,17.4,15.2,19.7,15.2,21,15.1,22.5,14.7,23.3,14.8,
0.3,14.1,1.5,14,2.9,14.2,4.2,14,5.5,14.5,6.8,14.2,8,14.4,9.4,14.2,10.6,14.3,11.9,14.1,13.1,13.9,14.4,14.1,15.7,13.9,17,14.4,18.5,14.1,19.8,13.9,21,13.9,22.4,13.6,23.2,13.6,
1,12.9,2.3,12.9,3.6,13.1,4.9,12.9,6.1,13.2,7.4,12.7,8.6,12.9,10,13.1,11.2,12.8,12.5,12.9,13.8,12.8,15.1,12.7,16.3,12.7,17.6,12.9,18.9,12.7,20.1,12.9,21.5,12.8,22.7,12.6,
1.7,11.8,3,11.7,4.3,11.8,5.7,11.5,7,11.8,8.2,11.5,9.6,11.8,10.8,11.7,12,11.5,13.2,11.7,14.5,11.5,15.8,11.7,17,11.4,18.4,11.7,19.6,11.5,20.9,11.7,22.2,11.6,23,11.9,
0.7,10.6,2,10.5,3.3,10.5,4.6,10.6,5.9,10.3,7.2,10.6,8.4,10.2,9.7,10.5,11,10.4,12.2,10.5,13.6,10.2,14.9,10.6,16.2,10.4,17.4,10.2,18.7,10.5,20,10.3,21.2,10.4,
1.5,9.4,2.8,9.2,4,9.3,5.4,9.1,6.6,9.4,7.9,9.1,9.2,9.3,10.5,9.1,11.7,9.4,13,9,14.3,9.3,15.6,9,16.9,9.3,18.2,9,19.4,9.3,20.7,9.1,22,9.2,
1,7.9,2.3,8,3.5,8,4.8,7.9,6.1,8.1,7.4,7.9,8.7,8.1,10,7.8,11.3,8.1,12.6,7.8,13.9,8,15.2,7.9,16.4,8.1,17.7,7.9,19,8,20.2,7.9,21.5,7.9,
1.6,6.7,2.9,6.9,4.2,6.7,5.5,6.9,6.8,6.7,8,6.9,9.3,6.7,10.6,6.9,11.9,6.6,13.2,6.8,14.5,6.7,15.8,6.9,17,6.6,18.3,6.9,19.6,6.7,20.9,6.5,22.3,7,24.4,7.2,22.2,6.4,
2.3,5.6,3.5,5.5,4.8,5.7,6.1,5.5,7.4,5.7,8.6,5.5,9.9,5.7,11.2,5.4,12.5,5.6,13.8,5.5,15.1,5.7,16.3,5.5,17.6,5.6,18.9,5.4,20.2,5.6,21.5,5.4,
2.9,4.4,4.2,4.4,5.5,4.5,6.8,4.3,8,4.5,9.3,4.3,10.6,4.5,11.9,4.3,13.2,4.5,14.5,4.3,15.8,4.3,17.4,4.4,19,4.5,20,4.5,23.1,4.3,
2.4,3.2,3.7,3.4,5,3.2,6.3,3.4,7.6,3.2,8.8,3.4,10.1,3.1,11.4,3.4,12.7,3.2,14,3.2,
3.1,2.2,4.4,2.1,5.7,2.3,7,2.1,8.2,2.3,9.5,2.1,10.8,2.3,12,2,13.2,2.2,
2.6,1,3.9,0.9,5.2,1,6.5,1.1,7.8,0.9,9.1,1.1,10.4,0.9,11.7,1,12.6,1.2,
4.5,-0.2,5.8,-0.1,7,-0.1,8.4,0,9.7,-0.1,11,-0.2,
-2.7,-2.4,-4.4,-2.9,-7.4,-3,-4.3,-2.9,10.5,-2.6,8.9,-0.9,-4.8,-3.2,-0.9,-3,-9.8,-2.7,
5.8,-3.2,5,-2.5,13,-3.2,13.7,-4,14.2,-4.6,8.7,-5.6,9.5,-6.6,11.6,-6.5,12.6,-7.3,12,-7.4,7.5,-8.3,8.5,-8.4,9.2,-10.5,9.1,-12.4,9,-13.7,7.6,-14.4,4,-15,2.9,-14.8,-3,-11.6,-5.8,-11,-14.3,-3.7,-15,-3.9,-16.3,-6.5,-9,-8.5,3.9,-12.1,3.8,-13.3,5.1,-13.8];
const C2more=[11,19,13,18,14.2,18.6,16.5,18.2,18.5,18.5,19.9,19,11.1,16.8,13.7,16.9,15.3,16.8,17.7,16.6,20.2,16.8,21.9,15.7,3,15,4.2,14.8,5.8,14.9,7.1,14.8,8.2,15,9.7,14.8,11.7,14.7,13,14.6,14.3,14.7,15.6,14.6,16.8,14.7,18.3,15,19.3,14.7,20.4,14.5,21.8,14.5,1.9,13.4,3.2,13.5,4.6,13.6,5.9,13.7,7.1,13.5,8.7,13.6,10,13.6,11.3,13.5,12.5,13.4,13.8,13.4,15,13.4,16.3,13.3,17.6,13.5,18.9,13.3,20.4,13.4,21.2,13.4,22.9,13.2,1.4,12.3,2.7,12.2,4,12.4,5.2,12.4,6.7,12.2,8,12.2,9.2,12.3,10.4,12.1,11.6,12.2,12.9,12.2,14.2,12.2,15.5,12,16.7,12.1,18,12.2,19.3,12,20.5,12.2,21.7,12,1,11.2,2.4,11.1,3.6,11.1,5,11.1,6.4,11,7.6,11,8.9,11,10.2,11.1,11.7,11,12.8,11.1,14.1,10.9,15.3,11.1,16.7,10.9,17.9,11.1,19.2,10.9,20.4,11,21.7,10.9,1,9.9,2.4,9.9,3.7,9.8,5,9.9,6.2,9.8,7.6,9.7,8.9,9.9,10,9.7,11.4,9.9,12.6,9.7,14,9.7,15.2,9.6,16.5,9.7,17.8,9.7,19.1,9.7,20.4,9.6,21.6,9.6,22.6,9.6,2.1,8.6,3.4,8.7,4.7,8.6,5.9,8.7,7.2,8.5,8.5,8.6,9.7,8.4,11,8.5,12.3,8.4,13.6,8.6,14.9,8.5,16.1,8.4,17.4,8.5,18.7,8.4,20,8.5,21.2,8.5,1.9,7.4,3,7.4,4.4,7.3,5.6,7.5,7,7.3,8.3,7.4,9.5,7.3,10.9,7.5,12.1,7.3,13.4,7.4,14.8,7.3,16,7.3,17.3,7.2,18.6,7.4,19.9,7.2,21.1,7.2,2.6,6.2,3.9,6.2,5.2,6.3,6.4,6.2,7.7,6.3,9,6.1,10.3,6.2,11.5,6,12.8,6.2,14.2,6.1,15.4,6.2,16.8,6,18,6.2,19.3,6,20.5,6.1,21.7,6,2.9,5,4.1,5,5.4,5,6.7,5,8,5,9.3,5,10.6,5,11.9,4.9,13.2,5,14.5,4.9,15.8,5,17,4.9,18.2,5,19.5,5,20.8,5.1,2.1,3.9,3.5,3.9,4.8,3.8,6.1,3.9,7.4,3.7,8.7,3.8,10,3.7,11.3,3.9,12.6,3.8,13.7,3.8,16,3.7,3.1,2.8,4.3,2.7,5.6,2.8,6.9,2.7,8.2,2.8,9.5,2.7,10.8,2.8,12,2.7,13.4,2.8,3.7,1.6,5,1.6,6.2,1.7,7.5,1.5,8.8,1.6,10.1,1.5,11.4,1.6,12.7,1.6,3.2,0.4,4.5,0.4,5.7,0.5,7,0.5,8.4,0.5,9.7,0.4,11,0.5,5.2,-0.7,6.6,-0.8,8,-0.7,9.3,-0.6,10.4,-0.7];
const C3=[-1.5,12.6,-10.1,9.7,3.5,7.1,-1.1,1.6,-1.2,-1.9,-1.3,-5,-0.6,-3.8,-0.7,-6,1,-5.2,-3.5,-10.2,5.8,-3.2,8,-8.3,-14.7,-5.2,-11.5,-5.6,-16.3,-7,-13.9,-6.6,-19.2,-7.6,-18.2,-8.3,-16.9,-7.9,-15.5,-8,-14,-7.3,-12.5,-7.8,-10.9,-7.1,-9.3,-8.5,-21.9,-9.4,-16.4,-9,-12.1,-9.5,-10.5,-9.4,-14.5,-10.2,-19.3,-10.2,-17.7,-10.6,-11.2,-10.8,-9.2,-10.9,-15,-11.5,-12.3,-11.8,-17.4,-12.1,-14,-12.6,-19.1,-13.5,-16.5,-13.4,-13,-13.2,-11.4,-12.8,-17.9,-14.7,-15.1,-15,-12.5,-14.7,-10.8,-14.5,-9.1,-15,-16.8,-15.8,-13.5,-15.6,-11,-15.6,-10,-15.9,-20,-15.5,-22.4,-15.4,-18.4,-16.7,-14.8,-16.8,-12.3,-16.8,-10.4,-17,-19.5,-18,-16,-18,-13.9,-17.8,-12.5,-18.2,-16.8,-19,-14.7,-19.1,-13,-19.5,-11.5,-20,-12,-19.6,-18.2,-20.2,-16,-20.6,-14,-20.3,-12.8,-20.7,-19,-20.9,-15.9,-22,-21.5,-21.3,-18,-21.3,-12.6,-21.1,-2,-14,0,-14.2,5.5,-11.5,3,-12.1,-4.1,-9.9,
-18.7,-8.7,-17.2,-9.2,-15.6,-9.4,-13.2,-9.1,-19.9,-11,-16.7,-11.6,-14,-11.6,-18.2,-12.6,-15.6,-13,-19.6,-14.2,-16.2,-14.2,-18.9,-15.4,-16.2,-15.4,-14.4,-15.7,-11.9,-16.3,-20.4,-16.3,-17,-16.6,-14.2,-16.3,-17.7,-17.8,-15.4,-17.7,-12.7,-17.3,-18.9,-19.2,-16.8,-18,-14.4,-18,-13.4,-19.1,-20.1,-19.6,-17.5,-19.4,-15.4,-19.5,-12.5,-19.4,-21.6,-20.5,-19.6,-20.6,-17.3,-20.6,-15,-20.7,-13,-20.2,-20.2,-21.5,-17.8,-21.8,-12.8,-20];
const C4=[3.7,20.5,5.5,20.5,12.3,21.7,12.4,21.2,15,20.6,11.6,20.1,12.3,19.9,14.7,19.4,21.6,18.4,21.2,17.8,18.6,16.9,5.8,17,8.8,17.4,9.4,16.8,19.3,15.9,23.3,16.1,22.2,16.4,21.1,15.1,19.4,14.6,18.8,16.2,7.6,14.6,15.3,18.4,12.9,16,16.5,15.3,
4.8,13,9.5,13.6,10.8,13.4,12.9,13.1,15.4,14,18.9,13.8,21.7,13.4,5.5,12.3,8.2,12.5,10.6,12.1,13.9,12.1,19.3,12.6,22.4,12.1,-0.9,11.5,4.8,11,6,11,8,10.6,11,10.9,13.6,10.4,18.9,9.9,21.4,10.7,22.8,10.8,23.6,10.7,24,10.1,23.3,9.8,24.3,8.8,23.6,7.9,
2,10,7.5,9.9,9.1,9.3,10.9,8.8,16,9,15.3,9.9,21.4,9,3.8,7.9,6.1,8,11.3,7.9,13.6,7.2,16,7.7,19.6,8.6,5.6,6.9,10.4,7.4,16.3,6.4,20.2,6.7,2.5,6.1,4.6,5.9,6.9,6,11,6.2,12.6,7.7,17.8,6.2,3,4.8,6.1,4.7,8.3,4.8,11,5.5,14,4.8,18.4,4.8,5.2,3.6,7.1,3.9,10.9,3.5,15.4,3.8,16.9,3.7,20.4,3.6,6.8,2.5,8,1.5,4.2,1.4,11.3,0.3,22.4,1.9,21,2.4,13.5,1.4,
-11.5,13.1,-9.3,13.1,-9.4,12.4,-8.1,12,-10,11.8,-9.4,11,-8.5,11.1,-7.4,11.4,-6.1,11.7,-5.3,12.2,-4.6,11.7,-10.5,10.2,-9.6,10,-8.5,10.4,-7.6,10,-6.6,10.2,-5.3,10.4,-4.4,10.7,-11.4,9.2,-10.4,9.4,-9,9.5,-7.6,9.4,-6.2,9.1,-4.9,9.2,-3.6,9.6,-11.4,8.1,-12.3,7.7,-11.3,7.4,-10.5,7.9,-9.3,8.3,-8.1,8.4,-7,8.3,-5.5,8,-4.4,8.1,-10.8,6.6,-9.6,6.7,-8.2,7,-7,7.2,-5.8,7,-4.6,7.1,-3.1,7.4,-10.9,5.3,-9.8,5.7,-8.5,5.8,-7.2,5.3,-5.8,5.7,-4.4,5.8,-3,6.2,-11.6,4.4,-9.5,4.3,-8.1,4.5,-6.6,4.4,-5.4,4.6,-3.9,4.5,-2.4,4.7,-9.9,3.5,-8.3,3.1,-7,3.3,-5.5,2.8,-4.1,3.3,-2.8,3.6,-11.4,2.3,-10.6,2.4,-8.9,2,-7.6,2,-6.3,1.8,-4.8,1.8,-3.4,2,-2,2.4,-0.9,2.9,-9.2,1,-7,0.4,-5.9,0.8,-4.4,0.9,-3,1,-1.2,0.6,-0.9,2.2,0,1.7,-13,-5.2,
-2.6,-0.4,-1.2,-1,0.4,-1.5,1.4,-1.1,2.6,-1,3.8,-1.2,5,-1.3,6.9,-0.7,-0.9,-2.2,0.5,-2.5,1.7,-2.4,2.9,-2,4.3,-2.1,5.8,-2.5,8.6,-1.3,8.9,-2.6,-1.2,-3.3,0,-3.1,1.2,-3.4,2.3,-3.2,3.7,-3,6,-3.3,7.6,-3.1,8.8,-3.2,9,-4,8.5,-4.5,-13.1,-2.6,-13.4,-2.7,14.7,-1.2,16.8,-1.7,17.3,-2.4,18.5,-3.4,15.2,-3.2,16.2,-4.3,-7.7,-5.8,-0.9,-5.3,0.9,-6.2,-1,-6.8,5.9,-8.6,9.8,-6.2,11,-5.2,9,-8.1,10,-8.3,11.2,-8.8,3.9,-10.3,-3.2,-12.7,-2.5,-11.1,3.6,-13,3.5,-14.2,2,-13.9,1.1,-14.3,4.7,-13.7,-0.2,-14.1,
-18.9,-7,-16.9,-5.6,-16.2,-4.2,-19.8,-8.6,-18,-8.1,-15.9,-7.7,-14.7,-7.8,-13.1,-7.9,-11.8,-7,-10.1,-6,-10.4,-8.1,-8.7,-7.9,-8.4,-9.8,-9.6,-10.4,-8.4,-10.8,-9.8,-11.4,-20.7,-9.3,-15.7,-8.9,-14,-8.8,-12.6,-9.2,-14.7,-9.7,-13,-10.5,-11.6,-10.4,-13.6,-11.1,-12.1,-11.3,-11.4,-11.5,-14.7,-12.2,-12.7,-12.5,-11.8,-12.7,-15.9,-12.2,-18,-14.9,-16.4,-14.6,-14.5,-14.5,-13.2,-14.4,-11.3,-14.2,-10.9,-13.8,-10.1,-15.3,-9.2,-15.2,-8.4,-15.7,-12.7,-16,-10.2,-16.6,-10.5,-19,-11,-17.4];
const C4more=[-10.9,12.4,-8.8,12.6,-7.5,12.5,-9.8,11.2,-8.9,11.6,-8,10.9,-7,10.8,-6,10.7,-5,10.9,-10,10.7,-9,10,-8.1,9.8,-7.1,9.7,-5.8,9.7,-4.3,9.8,-10.7,8.8,-9.7,8.8,-8.4,8.9,-6.9,8.9,-5.5,9,-4.2,8.9,-11.8,8.2,-10.9,7.7,-9.9,7.6,-8.7,7.6,-7.6,7.7,-6.4,7.6,-5,7.6,-3.8,7.6,-10.2,6.9,-9,6.5,-7.6,6.4,-6.3,6.5,-5.2,6.4,-4,6.6,-10.4,5.9,-9.1,5.1,-7.8,5.8,-6.4,5.5,-5.1,5.3,-3.6,5.4,-10.5,4.7,-8.8,3.9,-7.4,3.9,-6,3.7,-4.7,3.8,-3.3,4.2,-9.4,2.7,-7.9,2.5,-6.6,2.6,-5.2,2.3,-3.7,2.6,-2.4,3,-8.7,1.3,-7.6,1.4,-6,1.1,-4.5,1.3,-3.7,0.8,-2.2,1.4,20.4,15,22,15.4,17.7,13.2,21.1,12.6,15.1,11,9.9,10,7.9,8.4,18.6,5.7,4.1,4.3,11.8,7.1,16.1,12.9,6.2,12.8,-0.3,-2.9,1.1,-2,2.3,-1.7,3.4,-2.5,5.3,-2,7.2,-1.8,8,-2.7,-0.4,-4,1.9,-3.9,5,-3.7,7.2,-3.7,-17.9,-7.4,-15,-6.7,-13.8,-6.1,-12,-6.1,-17,-8.6,-15,-8.6,-13.3,-8.4,-11.4,-8.7,-16,-10,-13.7,-9.6,-12,-10.1,-15,-10.9,-12.8,-11,-13,-12,-15.2,-12.6,-13.8,-13.1,-12,-13.3,-17,-14,-15,-14.3,-13.2,-14.8,-12,-14.9,-14.3,-15.6,-12,-15.6,-13.4,-16.6,-11.2,-16];
const C5=[-8.3,4.2,-8.7,-13.7,-16.3,-6.4,-11.6,-8.1,-18.3,-8.6,-19.3,-7.2,-16.9,-7.8,-20,-9.5,-19.5,-10.3,-18.7,-9.6,-17.9,-10.1,-18.2,-11.2,-19.1,-11.3,-17.5,-12.2,-16.9,-10.8,-16,-11,-15.2,-10.9,-15.2,-8.2,-13.3,-7.2,-13.6,-8.1,-16,-12,-11.5,-11,
-20.4,-13.5,-21,-14.2,-22,-14.7,-21.2,-15.6,-22.2,-15.8,-20.1,-15.3,-19.3,-14.9,-18.7,-15.7,-19.6,-16.4,-20.9,-16.8,-22.1,-17.1,-23.1,-16.5,-23.3,-17.4,-22.6,-18,-21.6,-17.6,-20.6,-17.9,-19.5,-17.4,-18.5,-18,-17.5,-17.2,-16.5,-17.5,-15.2,-17.2,-14,-17,-14.8,-16.1,-23.9,-17.9,-23.6,-18.6,-22.7,-19.1,-21.7,-18.9,-20.6,-19,-19.6,-18.9,-18.5,-19.4,-17.4,-18.6,-16.2,-19,-15.2,-18.5,-13.9,-18.8,-13.2,-18,-23.3,-19.6,-22.4,-20.1,-21.4,-19.9,-20.1,-20.2,-19,-20.1,-17.7,-19.9,-16.5,-20,-15.2,-19.8,-13.9,-20,-12.6,-20,-21.3,-20.7,-20.4,-21,-19.2,-20.9,-17.8,-21,-16.6,-20.8,-15.5,-21,-14.2,-21.5,-13.4,-21.2,-16.9,-21.4,-16,-21.6,-15.2,-21.5,-17.6,-15.9,-16.4,-15.1,-13.6,-15.4,
-21.6,-14.9,-19.9,-14.3,-20.5,-16.4,-19,-16.5,-21.9,-16.4,-18,-15,-21,-18.5,-20,-18.2,-17.9,-18.2,-17,-17.8,-15.8,-18,-14.6,-17.4,-22.4,-18.7,-21,-19.5,-19,-19.6,-17.8,-19.3,-15.7,-19.2,-14.5,-19.3,-20.7,-20.5,-19.7,-20.8,-18.5,-20.6,-16.9,-20.5,-15.8,-20.4,-14.6,-20.3,-13.3,-20.5,-19.2,-21.3,-18.3,-21.3,-15.8,-21.1,-15,-21.9,-14,-21.8,-19.5,-12.2,-20.2,-11.9,-18.8,-10.4,-17.6,-9.4,-16.5,-8.8,-15.5,-12.5];
const C6=[21.5,18.9,19.1,19.5,13.9,20.9,18.1,16.5,13.9,16.7,9.7,15.7,18.4,14.8,17.3,13.7,20,14.1,3.9,14.5,4.8,12.4,0.3,15.1,-0.6,13,3.1,11.3,7.6,11.6,8.5,11.9,9,11.3,10.1,12.4,10.1,11,11.3,11,12.6,11,15.8,10.9,18.2,10.5,17.7,10.2,21.5,10.2,22.2,8.8,2.8,9.7,3.7,7.5,9.7,7.6,12.9,7.6,13.6,7.9,23.5,6.5,11.3,5.6,4.3,5.3,5.9,3.1,0,3,-1,2.8,-2.3,1.6,-5.8,10.9,-3.1,10,-1.2,6.7,11.6,-0.6,14.1,-1.9,20.1,0.5,
-0.5,-0.3,0,-1.2,1.8,-1,3.3,-1.7,6.5,-1.7,4.7,-2.9,-6.1,-4.1,-2.9,-3.9,-0.8,-3.6,-0.2,-4.5,1.4,-4.1,3.9,-4.2,-5.7,-5.5,-4.5,-5.5,-6.6,-6.2,-5.7,-6.4,-5,-6.9,-3.7,-5.8,-4.3,-8.6,0.9,-5.6,0.5,-6.5,1.9,-6.4,0,-7.3,0.9,-7.2,2.2,-7.6,-0.2,-8.3,1.1,-8,2.4,-8.4,-0.1,-9.1,1.1,-9,2.2,-9.1,3.3,-9.4,3.4,-10,-1.5,-10,-0.3,-10.2,0.9,-10,2.1,-9.9,-1.1,-11,0,-11.2,1.1,-10.9,2.3,-11.3,-3.1,-11,-2.4,-11.7,-0.7,-11.9,0.7,-12,1.9,-12.1,3.2,-11.6,4.5,-11.2,-3.2,-12.3,-1.7,-12.6,-0.2,-12.8,1.1,-12.7,2.5,-12.9,-3,-13.3,-1.2,-13.5,2.2,-13.6,3.4,-12.6,
6.8,-6.5,10.7,-5.8,13.1,-8.5,7.6,-10.5,2,-15.3,0.9,-15.9,2.2,-14.5,4.6,-14.6,6,-14.6,7.6,-12.9,5.1,-11.2,-8.9,-15.6,-13.1,-8.6,-10.7,-9.8,-11.3,-9.4,-16.3,-6,-15.2,-5.6,-14.4,-5.4,-15.9,-5,-13.1,-4.9,-19.7,-6.9,
-0.7,-7.9,0.4,-8.6,1.6,-8.7,-0.7,-9.6,0.5,-9.7,1.6,-9.5,2.8,-9.7,-1,-10.5,0.3,-10.6,1.5,-10.5,2.9,-10.7,-1.9,-11.3,-0.4,-11.5,0.4,-11.6,1.3,-11.6,2.8,-11.7,-2.5,-12.8,-1,-12.9,0.4,-12.2,1.8,-12.6,3,-13.3];
const C7=[-9.1,12.3,-9.3,10.2,0,13.2,-5.7,9.1,-6.5,8.7,-9.5,8.2,-8.6,7.9,-7.4,6,-5.3,5.5,-4.8,3.5,-2.9,1.6,-6.1,-0.3,24.3,9,10.9,-9.4,-11.1,-6.4,-10.3,-12.9,-20.5,-8.6,-21.4,-9.4,-20.8,-10,-21.6,-10.5,-21.3,-11.4,-22.2,-11.9,-21.2,-11.9,-21.9,-12.9,-22.9,-13.3,-20.4,-12.9,-21.3,-13.3,-19.5,-13.4,-18.7,-13,-18.4,-11.5,-17.4,-11.1,-15.7,-13.1,-17.4,-14.2,-15.8,-14,-14.6,-14.2,-13.1,-11.4,-18.3,-17.1,-16.7,-16.4,-15.8,-16.2,-13.7,-16.5,-13,-17.1,-14.2,-17.6,-13.6,-18,-21.9,-18.2,-12.7,-19,-14.6,-19.6,-14.2,-20.7,-22.9,-20.4,-22.2,-21.2,-14.8,-21.7];

// ---------- Panel B: gene box plots. [row,q1,median,q3,lowWhisker,highWhisker,farFrom,farTo,[outliers]] or [row,[outliers]] ----------
const B_CCR7=[[1,0,.3,.31,null,.46,.55,.72,[.78,.83]],[2,0,.3,.49,null,.64,.75,.78,[]],[3,0,.3,.31,null,.46,.56,.6,[.83]],[4,[.31,.48,.6,.7,.84]],[5,[.31,.48,.84]],[6,0,.3,.31,null,.46,.55,.7,[.78,.83]],[7,[.31,.6,.7,.84]],[8,0,null,.08,null,null,null,null,[.31,.48,.6,.84]]];
const B_CD4=[[1,0,.3,.3,null,.48,.6,.7,[.78,.9]],[2,0,.3,.48,null,.65,.78,.85,[]],[3,0,.3,.48,null,.7,null,null,[]],[4,[.3,.48,.6]],[5,[.3,.48,.6]],[6,[.3]],[7,0,.3,.48,null,.65,.78,1.03,[]],[8,[.3,.6]]];
const B_LEF1=[[1,0,.3,.48,null,.67,.78,.95,[]],[2,.3,.48,.6,0,.78,.9,.9,[]],[3,.08,.3,.6,0,.7,null,null,[]],[4,0,null,.3,null,.48,.6,.7,[]],[5,[.3,.48]],[6,.3,.48,.6,0,.78,.95,.95,[]],[7,0,.3,.6,null,.78,.95,.95,[]],[8,[.3,.48,.6]]];
const B_IL7R=[[1,.3,.48,.6,0,.78,1,1.04,[]],[2,.3,.48,.7,0,.9,1.04,1.04,[]],[3,0,.3,.43,null,.6,.7,.7,[]],[4,0,.3,.48,null,.7,.85,.85,[]],[5,.3,.48,.6,0,.78,1,1.04,[]],[6,.3,.48,.6,0,.78,.95,.95,[]],[7,0,null,.3,null,.48,.6,.6,[]],[8,0,.3,.48,null,.7,.85,.85,[]]];
const B_IL2RB=[[1,[.3,.48,.6,.7]],[2,[.3,.48,.6]],[3,0,null,.3,null,.48,null,null,[]],[4,0,null,.3,null,.48,.7,.7,[]],[5,0,null,.3,null,.48,.7,.7,[.78,.85,.9,.95,1.1]],[6,[.3,.48,.6]],[7,0,.3,.48,null,.7,.78,.78,[]],[8,0,.3,.48,null,.7,.9,1.15,[]]];
const B_CCL5=[[1,[.3,.48,.6,.7,.78,.85,.9,.95,1,1.04,1.08,1.11,1.15,1.2,1.26,1.3]],[2,[.3,.48,.6]],[3,[.3]],[4,.85,1.04,1.2,.48,1.48,null,null,[.3]],[5,.78,1.04,1.15,.3,1.48,1.6,1.6,[1.78]],[6,[.3,.48,.6,.7,.78,.85,.9,.95,1.04]],[7,[.3,.6]],[8,.78,1.11,1.26,.3,1.45,null,null,[]]];
const B_GZMK=[[1,[.3,.48,.6,.7,.78,.85,.9,.95,1,1.15,1.23]],[2,[.3,.85,.9]],[4,.3,.6,.8,0,1,1.2,1.38,[]],[5,.3,.48,.7,0,.95,1.15,1.23,[]],[6,[.3,.48,.85]],[7,[1.18]],[8,0,.48,.8,null,1,1.08,1.08,[]]];
const B_CD8A=[[1,[.3,.48,.6,.7,.78]],[2,[.3,.48,.6]],[3,[.3]],[4,.4,.7,.85,0,1,1.05,1.05,[]],[5,.3,.6,.78,0,1.03,1.1,1.33,[]],[6,.4,.6,.7,0,.95,1.05,1.05,[]],[8,[.3,.48,.6,.78]]];
const B_PRF1=[[1,[.3,.48,.6]],[2,[.3]],[4,[.3,.48]],[5,0,null,.3,null,.46,.55,.7,[.78,.85,.9]],[6,[.3]],[7,[.3]],[8,0,.48,.48,null,.65,.7,.78,[]]];
const B_FOXP3=[[1,[.3,.48]],[3,.3,.4,.45,null,.6,null,null,[.7]],[7,.3,.48,.66,null,.85,1.04,1.04,[1.18]]];

// ---------- Panel D: gene box plots ----------
const D_IL7R=[[1,0,null,.3,null,.6,.7,.7,[.78,.85,.9,.95,1,1.04,1.08,1.11,1.28,1.53]],[2,0,null,.3,null,.6,.7,.7,[.78,.85,.9,.95,1,1.04,1.08,1.15,1.23,1.3,1.53]],[3,0,null,.3,null,.6,.7,.7,[.78,.85,.9,.95,1,1.04,1.08,1.15,1.2,1.45]],[4,0,null,.3,null,.6,.7,.7,[.78,.85,.9,.95,1,1.08,1.18,1.5]],[5,0,null,.3,null,.6,.7,.7,[.78,.85,.9,.95,1.15,1.28,1.4,1.5]],[6,[.3,.48,.6,.7,.85,1,1.08,1.18,1.5]],[7,0,null,.3,null,.6,.7,.7,[.78,.95,1.5]]];
const D_CCR7=[[1,0,.7,.85,null,1.1,1.4,1.7,[]],[2,0,.3,.48,null,.85,1.18,1.18,[1.23,1.3,1.36,1.43,1.5]],[3,0,null,.3,null,.6,.7,.7,[.78,.85,.9,.95,1,1.04,1.08,1.11,1.15,1.2,1.26,1.3]],[4,0,.7,.9,null,1.3,1.4,1.68,[]],[5,[.3,.48,.6,.7,.78,.85,.9,.95,1.3,1.36]],[6,0,.48,.85,null,1.2,1.4,1.4,[]],[7,0,null,.3,null,.6,.7,.7,[.78,.85,1.15,1.48]]];
const D_CD4=[[1,0,.3,.48,null,.65,.78,1.15,[]],[2,0,null,.3,null,.48,.7,.7,[.78,.85,.9,.95,1]],[3,[.3,.48,.6]],[4,[.3,.48,.6,.7,.78,1,1.04]],[5,[.3,.6,.7,.78]],[6,0,.3,.6,null,.78,.9,1.04,[]],[7,[.3]]];
const D_TNF=[[1,0,.48,1.04,null,1.5,1.85,2.4,[]],[2,.48,1.04,1.5,0,2,2.3,2.65,[]],[3,.3,.6,.9,0,1.3,1.78,1.78,[1.85,1.95,2.1,2.4]],[4,0,null,.6,null,1.1,1.48,1.48,[1.54,1.6,1.7,1.78,1.85,1.95,2,2.1,2.2,2.3,2.4]],[5,.48,.7,.95,0,1.4,1.6,1.6,[1.7,1.78,1.85,1.95,2]],[6,.3,.6,1.04,0,1.54,2.1,2.1,[2.3,2.4]],[7,.3,.7,.95,0,1.4,1.7,1.7,[]]];
const D_IL2=[[1,0,null,.6,null,.95,1.04,1.04,[]],[2,1.54,2,2.45,1.08,3,3.4,3.4,[]],[3,0,null,.3,null,.6,.7,.7,[.78,.85,.9,.95,1.04]],[4,0,.48,.9,null,1.5,2.2,2.2,[2.3,2.4,2.5,2.6,2.7,2.8,2.9,3.05,3.2]],[5,0,null,.3,null,.6,.7,.7,[.78,.9,1.04,1.6]],[6,0,null,.6,null,1.2,1.48,1.48,[1.6,1.7,1.85,1.95,2.1,2.2,2.3,2.5,2.7,2.85,3,3.15]],[7,0,null,.3,null,.6,.7,.7,[.85,2.48]]];
const D_CD8A=[[3,.48,.8,1.04,0,1.3,1.6,1.6,[]],[4,.3,.6,.8,null,1.08,1.32,1.32,[]],[5,.78,1.04,1.26,.3,1.54,1.62,1.62,[]],[7,0,.6,.62,null,.9,1.23,1.23,[]]];
const D_IFNG=[[1,[.3,.48,.6,.7,.78,.85,.9,.95,1,1.04,1.08,1.15,1.23,1.3,1.36,1.48,1.6,1.7,1.78,1.9,2.04,2.15,2.3,2.45,2.6,2.75,3.1]],[2,[.3,.48,.6,.7,.78,.85,.9,.95,1,1.04,1.08,1.15,1.23,1.3,1.36,1.48,1.6,1.7,1.78,1.9,2,2.1,2.2,2.3,2.48,2.6,2.7,2.85,3,3.1]],[3,0,null,.78,null,1.3,1.9,1.9,[2.1,2.2,2.3,2.4,2.5,2.6,2.7,3.2]],[4,[.3,.48,.6,.7,.85,.95,1.04,1.15,1.23,1.36,1.48,1.6,1.7,1.85,2,2.15,2.3,2.45,2.6,2.75]],[5,0,null,.8,null,1.4,1.95,1.95,[2.1,2.3,2.4,2.7]],[6,[.3,.48,.6,.7,.78,.9,1,1.08,1.2,1.3,1.45,1.7,1.85,2.1,2.3,2.5,2.7,2.8]],[7,0,.3,1.36,null,1.9,2.2,2.4,[]]];
const D_LAG3=[[1,[.3,.48,.6,.7,.78,.85,.9,.95,1,1.04,1.08,1.15,1.2]],[2,[.3,.48,.6,.7,.78,.85,.9,1,1.15]],[3,0,.48,.85,null,1.1,1.3,1.53,[]],[4,0,null,.3,null,.6,.7,.7,[.78,.85,.9,.95,1,1.04,1.15]],[5,.7,.95,1.13,.3,1.4,1.6,1.6,[]],[6,[.3,.48,.6,.7,.78,.85,.9,1,1.1]],[7,0,.7,1,null,1.18,1.26,1.26,[]]];
const D_PRDM1=[[1,[.3,.48,.6,.7,.78,.85,.9,.95,1,1.1,1.15]],[2,[.3,.48,.6,.7,.78,.85,1.08]],[3,0,.3,.48,null,.7,.78,1.1,[]],[4,[.3,.48,.6,.7,.78,.85,.95,1.04]],[5,.3,.48,.7,null,.9,1.1,1.1,[]],[6,0,.3,.52,null,.7,.85,1.08,[]],[7,0,.3,.48,null,.7,.8,1.04,[]]];
const D_FOXP3=[[3,[.3,.48,.6,.7,.78,.85,.9,1,1.1,1.36,1.45]],[4,[.3,.48,.6,.7,1.23,1.3,1.48]],[5,[.3,.48,.7,.78,.85,.9,1,1.1,1.3,1.4]],[6,.3,.78,1.1,null,1.4,1.54,1.54,[]]];

const page=document.getElementById("page");
function place(el,left,top){const d=document.createElement("div");d.className="abs";d.style.left=left+"px";d.style.top=top+"px";d.appendChild(el);page.appendChild(d);}
function text(t,x,y,css){const d=document.createElement("div");d.className="lab";d.textContent=t;d.style.left=x+"px";d.style.top=y+"px";Object.assign(d.style,css||{});page.appendChild(d);return d;}
const toPts=(flat,c)=>{const o=[];for(let i=0;i+1<flat.length;i+=2)o.push({x:flat[i],y:flat[i+1],c});return o;};

function scatter(top,bottom,left,right,xDom,yDom,xTicks,yTicks,sets,colors,axisW,axisC,r,sw){
  const pts=sets.flatMap((s,i)=>toPts(s,colors[i]));
  const W=right-left+60,H=bottom-top+40;
  place(Plot.plot({width:W,height:H,marginLeft:40,marginRight:20,marginTop:20,marginBottom:20,
    style:{background:"transparent",fontFamily:"Liberation Sans",fontSize:"12px",color:"#2a2a2a"},
    x:{domain:xDom,axis:null},y:{domain:yDom,axis:null},
    marks:[
      Plot.axisX({ticks:xTicks,tickSize:-4,tickPadding:10,stroke:axisC,color:"#2a2a2a",tickFormat:d=>String(d),anchor:"bottom",label:null,fontSize:12,textStroke:"none"}),
      Plot.axisY({ticks:yTicks,tickSize:-4,tickPadding:9,stroke:axisC,tickFormat:d=>String(d),anchor:"left",label:null,fontSize:12}),
      Plot.ruleX([xDom[0]],{stroke:axisC,strokeWidth:axisW}),
      Plot.ruleY([yDom[0]],{stroke:axisC,strokeWidth:axisW}),
      Plot.dot(pts,{x:"x",y:"y",r,fill:d=>d.c,stroke:"#8a8a8a",strokeWidth:sw})
    ]}),left-40,top-20);
}

function boxes(rows,n,name,left,right,top,bottom,dom,ticks,showY,titleY,zeros){
  const all=rows.map(a=>a.length===2?{row:a[0],outs:a[1],box:false}:{row:a[0],q1:a[1],med:a[2],q3:a[3],lo:a[4],hi:a[5],s1:a[6],s2:a[7],outs:a[8],box:true});
  const bx=all.filter(d=>d.box);
  const col=d=>boxColors[d.row-1];
  const outs=all.flatMap(d=>d.outs.map(v=>({row:d.row,v})));
  const zero=zeros?all.filter(d=>!d.box):[];
  const capOf=d=>d.s2!=null?d.s2:d.hi;
  const ML=24,MR=4,MT=4,MB=22;
  const W=right-left+ML+MR,H=bottom-top+MT+MB;
  const rowTicks=d3.range(1,n+1);
  const marks=[
    Plot.frame({stroke:"#8a8a8a",strokeWidth:1.3}),
    Plot.axisX({ticks,tickSize:0,tickPadding:4,tickFormat:d=>String(d),label:null,fontSize:10.5,color:"#333"}),
    Plot.ruleX(ticks,{y1:()=>n+.5,y2:()=>n+.5-.07,stroke:"#8a8a8a"}),
    Plot.ruleX(ticks,{y1:()=>.5,y2:()=>.57,stroke:"#8a8a8a"}),
    Plot.ruleY(bx.filter(d=>d.lo!=null),{y:"row",x1:"lo",x2:"q1",stroke:"#777",strokeWidth:1}),
    Plot.ruleY(bx.filter(d=>d.hi!=null),{y:"row",x1:"q3",x2:"hi",stroke:"#777",strokeWidth:1}),
    Plot.ruleY(bx.filter(d=>d.s1!=null),{y:"row",x1:"s1",x2:"s2",stroke:"#777",strokeWidth:1}),
    Plot.ruleX(bx.filter(d=>d.lo!=null&&d.lo>0),{x:"lo",y1:d=>d.row-.1,y2:d=>d.row+.1,stroke:"#666",strokeWidth:1}),
    Plot.ruleX(bx.filter(d=>capOf(d)!=null),{x:capOf,y1:d=>d.row-.1,y2:d=>d.row+.1,stroke:"#666",strokeWidth:1}),
    Plot.rect(bx,{x1:"q1",x2:"q3",y1:d=>d.row-.25,y2:d=>d.row+.25,fill:col,stroke:"#5a5a5a",strokeWidth:1}),
    Plot.ruleX(bx.filter(d=>d.med!=null),{x:"med",y1:d=>d.row-.25,y2:d=>d.row+.25,stroke:"#000",strokeOpacity:.3,strokeWidth:1}),
    Plot.ruleX(zero,{x:()=>0,y1:d=>d.row-.2,y2:d=>d.row+.2,stroke:"#555",strokeWidth:1.4}),
    Plot.dot(outs,{x:"v",y:"row",r:.7,fill:"#444"})
  ];
  if(showY)marks.push(Plot.axisY({ticks:rowTicks,tickSize:0,tickPadding:4,label:null,fontSize:14,tickFormat:d=>String(d),color:"#222"}));
  place(Plot.plot({width:W,height:H,marginLeft:ML,marginRight:MR,marginTop:MT,marginBottom:MB,
    style:{background:"transparent",fontFamily:"Liberation Sans",color:"#333"},
    x:{domain:[0,dom],axis:null},y:{domain:[n+.5,.5],axis:null},marks}),left-ML,top-MT);
  text(name,(left+right)/2,titleY,{fontSize:"12.5px"});
}

// ---------- Titles and letters ----------
const letter={fontFamily:'"Open Sans",sans-serif',fontWeight:"700",fontSize:"18.5px",color:"#222"};
text("A",20,17,letter);text("B",20,555,letter);text("C",20,810,letter);text("D",20,1393,letter);
text("Analysis of resting CD3 T cells with BD Rhapsody T-Cell Targeted Panel",359,33,{fontWeight:"700",fontSize:"18.5px",color:"#222"});
text("Analysis of activated CD3 T cells with BD Rhapsody T-Cell Targeted Panel",359,844,{fontWeight:"700",fontSize:"19px",color:"#222"});

// ---------- Scatter panels ----------
scatter(55.3,495.8,47,417,[-20,20],[-20,25],d3.range(-20,21,5),d3.range(-20,26,5),[A1,A1more,A2,A2more,A3,A4,A5,A5more,A6,A7,A8],[0,0,1,1,2,3,4,4,5,6,7].map(i=>pointColorsA[i]),1.6,"#999",4,1.5);
scatter(875,1332.7,47.3,424,[-30,30],[-25,25],d3.range(-30,31,10),d3.range(-25,26,5),[C1,C1more,C2,C2more,C3,C4,C4more,C5,C6,C7],[0,0,1,1,2,3,3,4,5,6].map(i=>pointColorsC[i]),1.2,"#888",4,1.5);
text("coord 1",232,523,{fontSize:"14px"});
text("coord 2",10,276,{fontSize:"14px",transform:"translate(-50%,-50%) rotate(-90deg)"});
text("coord 1",234,1362,{fontSize:"14px"});
text("coord 2",10,1104,{fontSize:"14px",transform:"translate(-50%,-50%) rotate(-90deg)"});

function legend(items,colors,cx,tx,ys,size){
  const W=708,H=1604;
  items.forEach((t,i)=>{text(t,tx,ys[i],{fontSize:size,transform:"translateY(-50%)",color:"#333"});});
  place(Plot.plot({width:W,height:H,margin:0,x:{domain:[0,W],axis:null},y:{domain:[0,H],reverse:true,axis:null},style:{background:"transparent"},
    marks:[Plot.dot(items.map((t,i)=>({i})),{x:()=>cx,y:d=>ys[d.i],r:7,fill:d=>colors[d.i]})]}),0,0);
}
legend(legendA,legendColorsA,355,372,[82.7,105,127.5,150.5,172.8,195.6,218.5,240.8],"15px");
legend(legendC,legendColorsC,377.7,394,[1160.7,1182.7,1204.7,1226.7,1249,1271,1293],"14px");

// ---------- Box panels ----------
const fB=[[B_CCR7,"CCR7",21,73.7,.86,[0,.5]],[B_CD4,"CD4",86.7,141.7,1.03,[0,.5,1]],[B_LEF1,"LEF1",156.7,212.3,1.13,[0,.5,1]],[B_IL7R,"IL7R",225.7,281.7,1.17,[0,.5,1]],[B_IL2RB,"IL2RB",294.7,350.7,1.44,[0,.5,1]],[B_CCL5,"CCL5",364,419.7,1.9,[0,1]],[B_GZMK,"GZMK",431.7,486.7,1.375,[0,.5,1]],[B_CD8A,"CD8A",500,555.7,1.336,[0,.5,1]],[B_PRF1,"PRF1",570,624.3,.906,[0,.5]],[B_FOXP3,"FOXP3",638.7,694.3,1.19,[0,.5,1]]];
fB.forEach((f,i)=>boxes(f[0],8,f[1],f[2],f[3],594,745,f[4],f[5],i===0,583,f[1]!=="FOXP3"));
text("log 10(number of molecules)",352,774,{fontSize:"16px"});
const fD=[[D_IL7R,"IL7R",21.3,74.3,1.54,[0,1]],[D_CCR7,"CCR7",87.3,143.3,2.02,[0,1]],[D_CD4,"CD4",154.3,210.3,1.15,[0,.5,1]],[D_TNF,"TNF",222.3,278.3,2.82,[0,1,2]],[D_IL2,"IL2",291.7,347.7,3.41,[0,2]],[D_CD8A,"CD8A",360.7,416.3,1.64,[0,1]],[D_IFNG,"IFNG",431,486.3,3.19,[0,2]],[D_LAG3,"LAG3",499.3,555,1.6,[0,1]],[D_PRDM1,"PRDM1",568.3,624.3,1.15,[0,.5]],[D_FOXP3,"FOXP3",636.3,692,1.6,[0,1]]];
fD.forEach((f,i)=>boxes(f[0],7,f[1],f[2],f[3],1426.7,1569,f[4],f[5],i===0,1417,!["CD8A","FOXP3"].includes(f[1])));
text("log 10(number of molecules)",352,1594,{fontSize:"16px"});
</script></body></html>
